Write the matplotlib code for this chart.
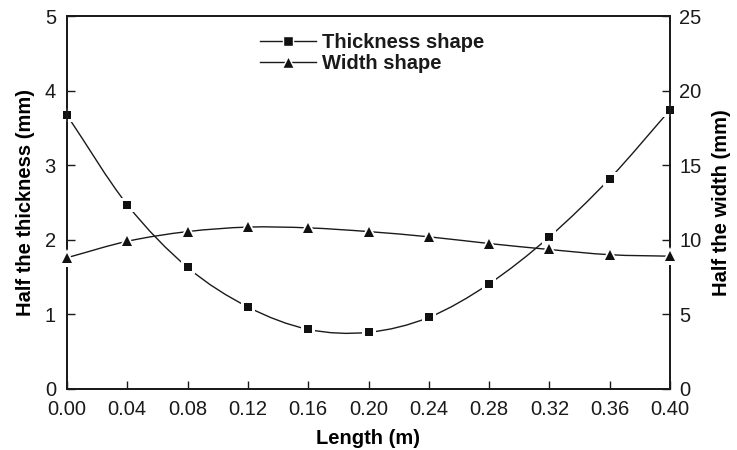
import matplotlib
matplotlib.use("Agg")
import matplotlib.pyplot as plt
import numpy as np
from matplotlib.path import Path
from matplotlib.patches import PathPatch
from matplotlib.lines import Line2D

plt.rcParams['font.family'] = ['Liberation Sans', 'DejaVu Sans']

length = [0.00, 0.04, 0.08, 0.12, 0.16, 0.20, 0.24, 0.28, 0.32, 0.36, 0.40]
thickness = [3.67, 2.47, 1.63, 1.10, 0.80, 0.76, 0.96, 1.41, 2.04, 2.82, 3.74]
width = [8.8, 9.9, 10.55, 10.85, 10.8, 10.55, 10.2, 9.75, 9.35, 9.0, 8.9]

x_ticks = [0.00, 0.04, 0.08, 0.12, 0.16, 0.20, 0.24, 0.28, 0.32, 0.36, 0.40]
x_labels = ["0.00", "0.04", "0.08", "0.12", "0.16", "0.20", "0.24", "0.28", "0.32", "0.36", "0.40"]


def smooth_path(xs, ys):
    xs = np.asarray(xs, float)
    ys = np.asarray(ys, float)
    verts = [(xs[0], ys[0])]
    codes = [Path.MOVETO]
    n = len(xs)
    for i in range(n - 1):
        x0, y0 = (xs[i - 1], ys[i - 1]) if i > 0 else (2 * xs[0] - xs[1], 2 * ys[0] - ys[1])
        x1, y1 = xs[i], ys[i]
        x2, y2 = xs[i + 1], ys[i + 1]
        x3, y3 = (xs[i + 2], ys[i + 2]) if i + 2 < n else (2 * xs[-1] - xs[-2], 2 * ys[-1] - ys[-2])
        c1 = (x1 + (x2 - x0) / 6, y1 + (y2 - y0) / 6)
        c2 = (x2 - (x3 - x1) / 6, y2 - (y3 - y1) / 6)
        verts += [c1, c2, (x2, y2)]
        codes += [Path.CURVE4] * 3
    return Path(verts, codes)


INK = '#1a1a1a'
fs = 14.5

fig = plt.figure(figsize=(7.37, 4.5), dpi=100)
ax = fig.add_axes([0.0909, 0.1356, 0.8182, 0.8288])
ax2 = ax.twinx()

lw = 1.0
ax.add_patch(PathPatch(smooth_path(length, thickness), fill=False, edgecolor=INK, lw=lw, zorder=2))
ax2.add_patch(PathPatch(smooth_path(length, width), fill=False, edgecolor=INK, lw=lw, zorder=2))

# white halos behind markers (gap in the line), then black markers
ax.plot(length, thickness, linestyle='none', marker='s', markersize=10.5, color='white',
        markeredgewidth=0, zorder=3, clip_on=False)
ax2.plot(length, width, linestyle='none', marker='^', markersize=13, color='white',
         markeredgewidth=0, zorder=3, clip_on=False)
ax.plot(length, thickness, linestyle='none', marker='s', markersize=6, color='#111111',
        markeredgewidth=0, zorder=4, clip_on=False)
ax2.plot(length, width, linestyle='none', marker='^', markersize=7.5, color='#111111',
         markeredgewidth=0, zorder=4, clip_on=False)

ax.set_xlim(0, 0.40)
ax.set_ylim(0, 5)
ax2.set_ylim(0, 25)
ax.set_xticks(x_ticks)
ax.set_xticklabels(x_labels)
ax.set_yticks([0, 1, 2, 3, 4, 5])
ax2.set_yticks([0, 5, 10, 15, 20, 25])

for a in (ax, ax2):
    a.tick_params(direction='in', length=6, width=1.0, labelsize=fs, colors=INK)
    for s in a.spines.values():
        s.set_linewidth(1.3)
        s.set_color(INK)
ax.tick_params(axis='x', pad=8)
ax.tick_params(axis='y', pad=8)
ax2.tick_params(axis='y', pad=6.5)

ax.set_xlabel('Length (m)', fontsize=fs, fontweight='bold', labelpad=7)
ax.set_ylabel('Half the thickness (mm)', fontsize=fs, fontweight='bold', labelpad=7)
ax2.set_ylabel('Half the width (mm)', fontsize=fs, fontweight='bold', labelpad=8)

def handle(m, ms):
    return Line2D([], [], color=INK, lw=lw, marker=m, markersize=ms,
                  markerfacecolor='#111111', markeredgecolor='white', markeredgewidth=1.0)

leg = ax.legend([handle('s', 7), handle('^', 8.5)], ['Thickness shape', 'Width shape'],
                loc='upper left', bbox_to_anchor=(0.313, 0.965), frameon=False,
                handlelength=2.8, handletextpad=0.3, labelspacing=0.1, borderpad=0.2,
                borderaxespad=0.0, prop={'weight': 'bold', 'size': fs})
for t in leg.get_texts():
    t.set_color(INK)

fig.savefig('out.png', dpi=100)
